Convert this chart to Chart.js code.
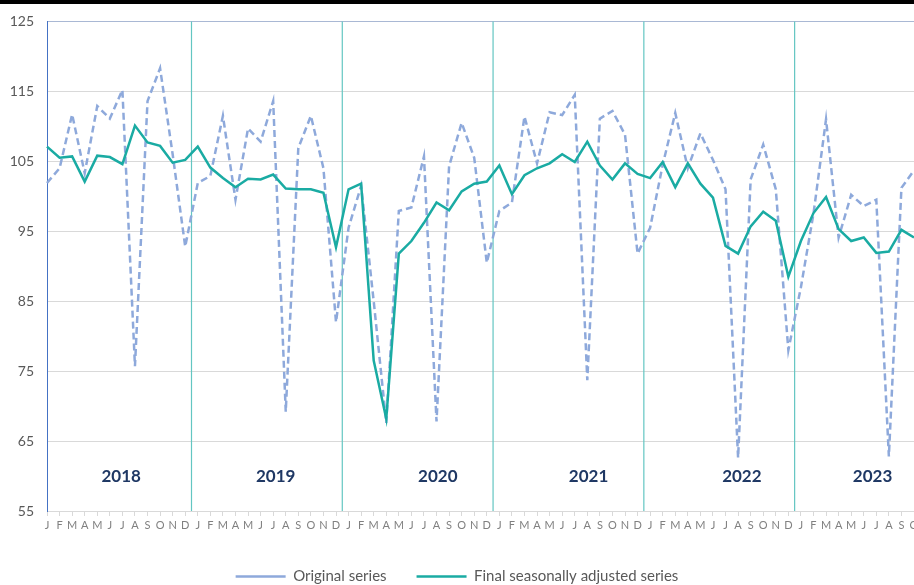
<!DOCTYPE html>
<html>
<head>
<meta charset="utf-8">
<script src="https://cdn.jsdelivr.net/npm/chart.js@4.4.1/dist/chart.umd.min.js"></script>
<style>
  html, body { margin: 0; padding: 0; background: #fff; overflow: hidden; }
  #wrap { position: absolute; left: 0; top: 0; width: 930px; height: 594px; }
  #topbar { position: absolute; left: 0; top: 0; width: 914px; height: 4px; background: #000; z-index: 2; }
</style>
</head>
<body>
<div id="topbar"></div>
<div id="wrap"><canvas id="chart" width="930" height="594"></canvas></div>
<script>
// 月の頭文字と年
const monthLetters = ['J', 'F', 'M', 'A', 'M', 'J', 'J', 'A', 'S', 'O', 'N', 'D'];
const years = ['2018', '2019', '2020', '2021', '2022', '2023'];
const monthsInLastYear = 10; // 2023 は 10月まで

// 原系列（2018年1月〜2023年10月）
const originalSeries = [
  101.9, 104.0, 111.7, 103.3, 112.9, 111.1, 115.2, 75.7, 113.6, 118.3, 106.0, 92.8,
  101.9, 102.9, 111.5, 99.5, 109.7, 107.8, 113.6, 69.2, 106.9, 111.5, 104.0, 82.0,
  95.5, 101.5, 85.0, 67.6, 97.9, 98.4, 105.7, 67.8, 104.3, 110.5, 105.5, 90.5,
  97.9, 99.1, 111.4, 104.7, 112.0, 111.6, 114.5, 73.7, 111.1, 112.2, 108.8, 91.8,
  95.5, 104.5, 111.9, 104.0, 109.0, 105.2, 101.0, 62.6, 102.4, 107.4, 101.0, 78.0,
  87.0, 97.5, 111.0, 94.1, 100.2, 98.6, 99.5, 62.8, 101.2, 103.7
];

// 季節調整済み系列
const adjustedSeries = [
  107.1, 105.5, 105.7, 102.1, 105.8, 105.6, 104.6, 110.1, 107.7, 107.2, 104.8, 105.2,
  107.1, 104.1, 102.6, 101.3, 102.5, 102.4, 103.1, 101.1, 101.0, 101.0, 100.5, 92.7,
  101.0, 101.8, 76.5, 68.2, 91.8, 93.6, 96.2, 99.1, 98.0, 100.7, 101.8, 102.1,
  104.4, 100.3, 103.0, 104.0, 104.7, 106.0, 104.9, 107.8, 104.4, 102.4, 104.7, 103.2,
  102.6, 104.9, 101.3, 104.7, 101.8, 99.8, 92.9, 91.8, 95.7, 97.8, 96.5, 88.5,
  93.6, 97.6, 99.9, 95.3, 93.6, 94.1, 91.9, 92.1, 95.2, 94.1
];

// x軸ラベル（J F M ... を年ごとに並べる）
const labels = [];
years.forEach((y, i) => {
  const n = i === years.length - 1 ? monthsInLastYear : 12;
  for (let m = 0; m < n; m++) labels.push(monthLetters[m]);
});

const FONT = 'Lato, "Open Sans", sans-serif';

// 年の区切り線と年ラベルを描くプラグイン
const yearPlugin = {
  id: 'yearMarks',
  beforeDatasetsDraw(chart, args, opts) {
    const { ctx, chartArea, scales: { x } } = chart;
    ctx.save();
    ctx.strokeStyle = opts.lineColor;
    ctx.lineWidth = 1.2;
    for (let i = 1; i < years.length; i++) {
      const px = x.getPixelForValue(i * 12 - 0.5);
      ctx.beginPath();
      ctx.moveTo(px, chartArea.top);
      ctx.lineTo(px, chartArea.bottom);
      ctx.stroke();
    }
    ctx.restore();
  },
  afterDatasetsDraw(chart, args, opts) {
    const { ctx, scales: { x, y } } = chart;
    ctx.save();
    ctx.fillStyle = opts.textColor;
    ctx.font = 'bold 17px ' + FONT;
    ctx.textAlign = 'center';
    ctx.textBaseline = 'middle';
    years.forEach((yr, i) => {
      ctx.fillText(yr, x.getPixelForValue(opts.labelAt[i]), y.getPixelForValue(opts.labelValue));
    });
    ctx.restore();
  }
};

new Chart(document.getElementById('chart'), {
  type: 'line',
  data: {
    labels: labels,
    datasets: [
      {
        label: 'Original series',
        data: originalSeries,
        borderColor: '#8EA9DB',
        backgroundColor: '#8EA9DB',
        borderWidth: 2.5,
        borderDash: [7, 4],
        pointRadius: 0,
        tension: 0,
        order: 1
      },
      {
        label: 'Final seasonally adjusted series',
        data: adjustedSeries,
        borderColor: '#1AABA3',
        backgroundColor: '#1AABA3',
        borderWidth: 2.5,
        pointRadius: 0,
        tension: 0,
        order: 0
      }
    ]
  },
  options: {
    responsive: false,
    animation: false,
    devicePixelRatio: 1,
    layout: { padding: { top: 19, left: 0, right: 16, bottom: 0 } },
    scales: {
      x: {
        offset: false,
        grid: { drawOnChartArea: false, drawTicks: true, tickLength: 5, color: '#D9D9D9' },
        border: { color: '#D9D9D9' },
        ticks: {
          autoSkip: false,
          maxRotation: 0,
          padding: 3,
          color: '#808080',
          font: { family: FONT, size: 11 }
        },
        afterFit(scale) { scale.height = 28; }
      },
      y: {
        min: 55,
        max: 125,
        grid: {
          drawTicks: false,
          color: c => (c.tick && c.tick.value === 125 ? '#A9B8D4' : '#D9D9D9')
        },
        border: { color: '#4472C4', width: 1 },
        ticks: {
          stepSize: 10,
          padding: 13,
          color: '#595959',
          font: { family: FONT, size: 14 }
        },
        afterFit(scale) { scale.width = 47; }
      }
    },
    plugins: {
      tooltip: { enabled: false },
      legend: {
        position: 'bottom',
        labels: {
          usePointStyle: true,
          pointStyle: 'line',
          pointStyleWidth: 50,
          padding: 30,
          color: '#595959',
          font: { family: FONT, size: 15 },
          sort: (a, b) => a.datasetIndex - b.datasetIndex
        }
      },
      yearMarks: {
        lineColor: '#63C6C2',
        textColor: '#1F3864',
        labelAt: [5.9, 18.2, 31.1, 43.1, 55.3, 65.7],
        labelValue: 60
      }
    }
  },
  plugins: [yearPlugin]
});
</script>
</body>
</html>
